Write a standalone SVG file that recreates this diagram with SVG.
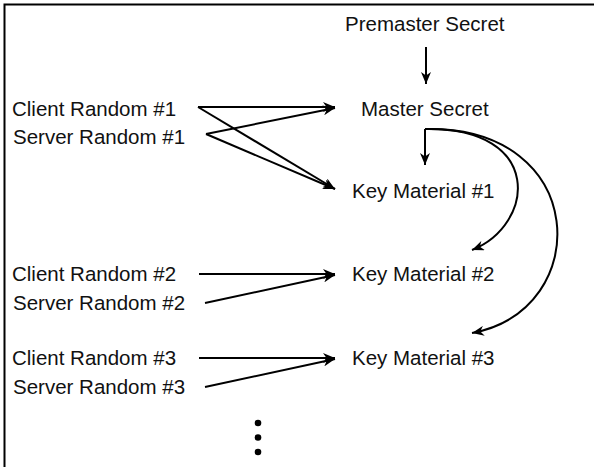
<svg xmlns="http://www.w3.org/2000/svg" width="594" height="467" viewBox="0 0 594 467">
  <style>
    .lbl { font-family: "Liberation Sans", Arial, sans-serif; font-size: 20.5px; fill: #111; }
    .edge { fill: none; stroke: #000; stroke-width: 2; marker-end: url(#head); }
    .frame { fill: none; stroke: #000; stroke-width: 2; }
  </style>
  <defs>
    <marker id="head" viewBox="0 0 12 10" refX="12" refY="5" markerWidth="12" markerHeight="10" markerUnits="userSpaceOnUse" orient="auto">
      <path d="M0,0 L12,5 L0,10 L3.5,5 z" fill="#000"/>
    </marker>
  </defs>
  <rect width="594" height="467" fill="#fff"/>
  <!-- open frame: top and left edges only -->
  <path class="frame" d="M4.5,467 V4.5 H594"/>

  <g id="premaster"><text class="lbl" x="345" y="31">Premaster Secret</text></g>
  <g id="master"><text class="lbl" x="361" y="115.5">Master Secret</text></g>
  <g id="client1"><text class="lbl" x="12" y="115.5">Client Random #1</text></g>
  <g id="server1"><text class="lbl" x="13" y="143.5">Server Random #1</text></g>
  <g id="key1"><text class="lbl" x="352" y="198">Key Material #1</text></g>
  <g id="client2"><text class="lbl" x="12" y="281">Client Random #2</text></g>
  <g id="server2"><text class="lbl" x="13" y="309.5">Server Random #2</text></g>
  <g id="key2"><text class="lbl" x="352" y="281">Key Material #2</text></g>
  <g id="client3"><text class="lbl" x="12" y="365">Client Random #3</text></g>
  <g id="server3"><text class="lbl" x="13" y="393.5">Server Random #3</text></g>
  <g id="key3"><text class="lbl" x="352" y="365">Key Material #3</text></g>
  <g id="more">
    <circle cx="258" cy="423" r="3.3"/>
    <circle cx="258" cy="437.5" r="3.3"/>
    <circle cx="258" cy="452" r="3.3"/>
  </g>

  <g id="connectors">
    <path class="edge" d="M426,47 V84"/>
    <path class="edge" d="M198,107 H335"/>
    <path class="edge" d="M198,107 L335,189"/>
    <path class="edge" d="M206,134 L335,108"/>
    <path class="edge" d="M206,134 L335,189"/>
    <path class="edge" d="M425,129 V165"/>
    <path class="edge" d="M425,129 C545,127 535,225 472,250"/>
    <path class="edge" d="M425,129 C590,125 595,310 472,333"/>
    <path class="edge" d="M199,274 H335"/>
    <path class="edge" d="M205,303 L335,275"/>
    <path class="edge" d="M199,358 H335"/>
    <path class="edge" d="M205,387 L335,359"/>
  </g>
</svg>
